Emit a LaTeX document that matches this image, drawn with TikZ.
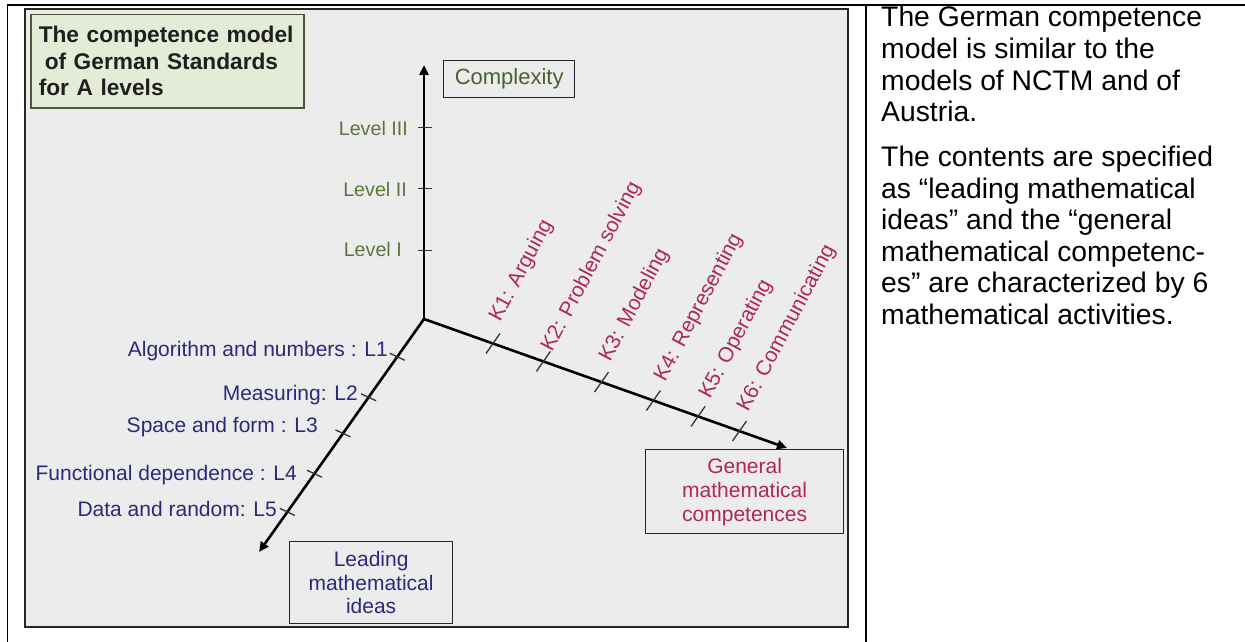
\documentclass[tikz,border=0pt]{standalone}
\usepackage{fontspec}
\setmainfont{Liberation Sans}
\usetikzlibrary{arrows.meta,calc}
\definecolor{bgpic}{RGB}{236,236,236}
\definecolor{titlefill}{RGB}{228,236,216}
\definecolor{titledraw}{RGB}{70,88,60}
\definecolor{lvgreen}{RGB}{92,118,62}
\definecolor{cxgreen}{RGB}{72,98,44}
\definecolor{kred}{RGB}{176,38,88}
\definecolor{lblue}{RGB}{42,42,122}
\newcommand\myfs[2]{\fontsize{#1pt}{#2pt}\selectfont}
\begin{document}
\begin{tikzpicture}[x=1pt,y=-1pt,
  axis/.style={line width=2.6pt, line cap=round, -{Triangle[length=10pt,width=9pt]}},
  tickline/.style={line width=1.3pt, black!80},
  lvl/.style={anchor=base east, inner sep=0pt, text=lvgreen, font=\myfs{19.7}{22}},
  klab/.style={anchor=base west, inner sep=0pt, rotate=62, text=kred, font=\myfs{21}{24}},
  llab/.style={anchor=base east, inner sep=0pt, text=lblue, font=\myfs{21}{24}},
  axbox/.style={draw=black!85, line width=1.3pt, fill=bgpic, align=center, inner sep=0pt, anchor=north west},
  rtext/.style={anchor=base west, inner sep=0pt, font=\myfs{28.3}{31.7}}]
\useasboundingbox (0,0) rectangle (1245,642);
\fill[white] (0,0) rectangle (1245,642);
% table rules
\draw[line width=1.8pt] (7,5) -- (1245,5);
\draw[line width=1.8pt] (7.5,5) -- (7.5,642);
\draw[line width=1.8pt] (866,5) -- (866,642);
% picture frame
\draw[line width=2pt, draw=black!85, fill=bgpic] (25,9.5) rectangle (848,627);
% title
\node[draw=titledraw, line width=1.5pt, fill=titlefill, anchor=north west,
      minimum width=273pt, minimum height=93pt, text width=257pt, inner xsep=8pt,
      inner ysep=0pt, align=left, text=black!88, font=\bfseries\myfs{22.7}{26.5}]
      (title) at (30,14) {The competence model\\\hspace*{6pt}of German Standards\\for A levels};
% axis boxes
\node[axbox, minimum width=131pt, minimum height=37pt, text=cxgreen, font=\myfs{22}{24}] (cx) at (443,60) {Complexity};
\node[axbox, minimum width=163pt, minimum height=82pt, text=lblue, font=\myfs{21}{23.5}] (lead) at (289,541) {Leading\\mathematical\\ideas};
\node[axbox, minimum width=198pt, minimum height=84pt, text=kred, font=\myfs{21}{24}] (gen) at (645,449) {General\\mathematical\\competences};
% axes
\coordinate (O) at (424,319);
\coordinate (Ctop) at (424,65);
\coordinate (Ktip) at (787,448);
\coordinate (Ltip) at (259,552);
\draw[axis] (O) -- (Ctop);
\draw[axis] (O) -- (Ktip);
\draw[axis] (O) -- (Ltip);
% complexity ticks
\foreach \f/\n in {.2706/1,.5125/2,.754/3}{
  \coordinate (lv\n) at ($(O)!\f!(Ctop)$);
  \draw[tickline] ($(lv\n)+(-6,0)$) -- ($(lv\n)+(8,0)$);
}
\node[lvl] (lvI) at (402,256.7) {Level I};
\node[lvl] (lvII) at (407,196.7) {Level II};
\node[lvl] (lvIII) at (408,135) {Level III};
% competence ticks
\foreach \f/\n in {.190/1,.329/2,.489/3,.632/4,.755/5,.869/6}{
  \coordinate (k\n) at ($(O)!\f!(Ktip)$);
  \draw[tickline] ($(k\n)+(-7,10)$) -- ($(k\n)+(7,-10)$);
}
\node[klab] (kl1) at (500,323) {K1: Arguing};
\node[klab] (kl2) at (552,353) {K2: Problem solving};
\node[klab] (kl3) at (610,363) {K3: Modeling};
\node[klab] (kl4) at (665,383) {K4: Representing};
\node[klab] (kl5) at (710,400) {K5: Operating};
\node[klab] (kl6) at (748,413) {K6: Communicating};
% leading ideas ticks
\foreach \f/\n in {.162/1,.336/2,.491/3,.664/4,.828/5}{
  \coordinate (l\n) at ($(O)!\f!(Ltip)$);
  \draw[tickline] ($(l\n)+(-7.5,-3.5)$) -- ($(l\n)+(7.5,3.5)$);
}
\node[llab] (ll1) at (388,356) {Algorithm and numbers : L1};
\node[llab] (ll2) at (358,400) {Measuring: L2};
\node[llab] (ll3) at (318,432.7) {Space and form : L3};
\node[llab] (ll4) at (297,480) {Functional dependence : L4};
\node[llab] (ll5) at (277,516.7) {Data and random: L5};
% right column text
\node[rtext] (r1) at (881,27) {The German competence};
\node[rtext] (r2) at (881,58.5) {model is similar to the};
\node[rtext] (r3) at (881,90) {models of NCTM and of};
\node[rtext] (r4) at (881,121.5) {Austria.};
\node[rtext] (r5) at (881,166.5) {The contents are specified};
\node[rtext] (r6) at (881,198) {as “leading mathematical};
\node[rtext] (r7) at (881,229.5) {ideas” and the “general};
\node[rtext] (r8) at (881,261) {mathematical competenc-};
\node[rtext] (r9) at (881,292.5) {es” are characterized by 6};
\node[rtext] (r10) at (881,324) {mathematical activities.};
\end{tikzpicture}
\end{document}
